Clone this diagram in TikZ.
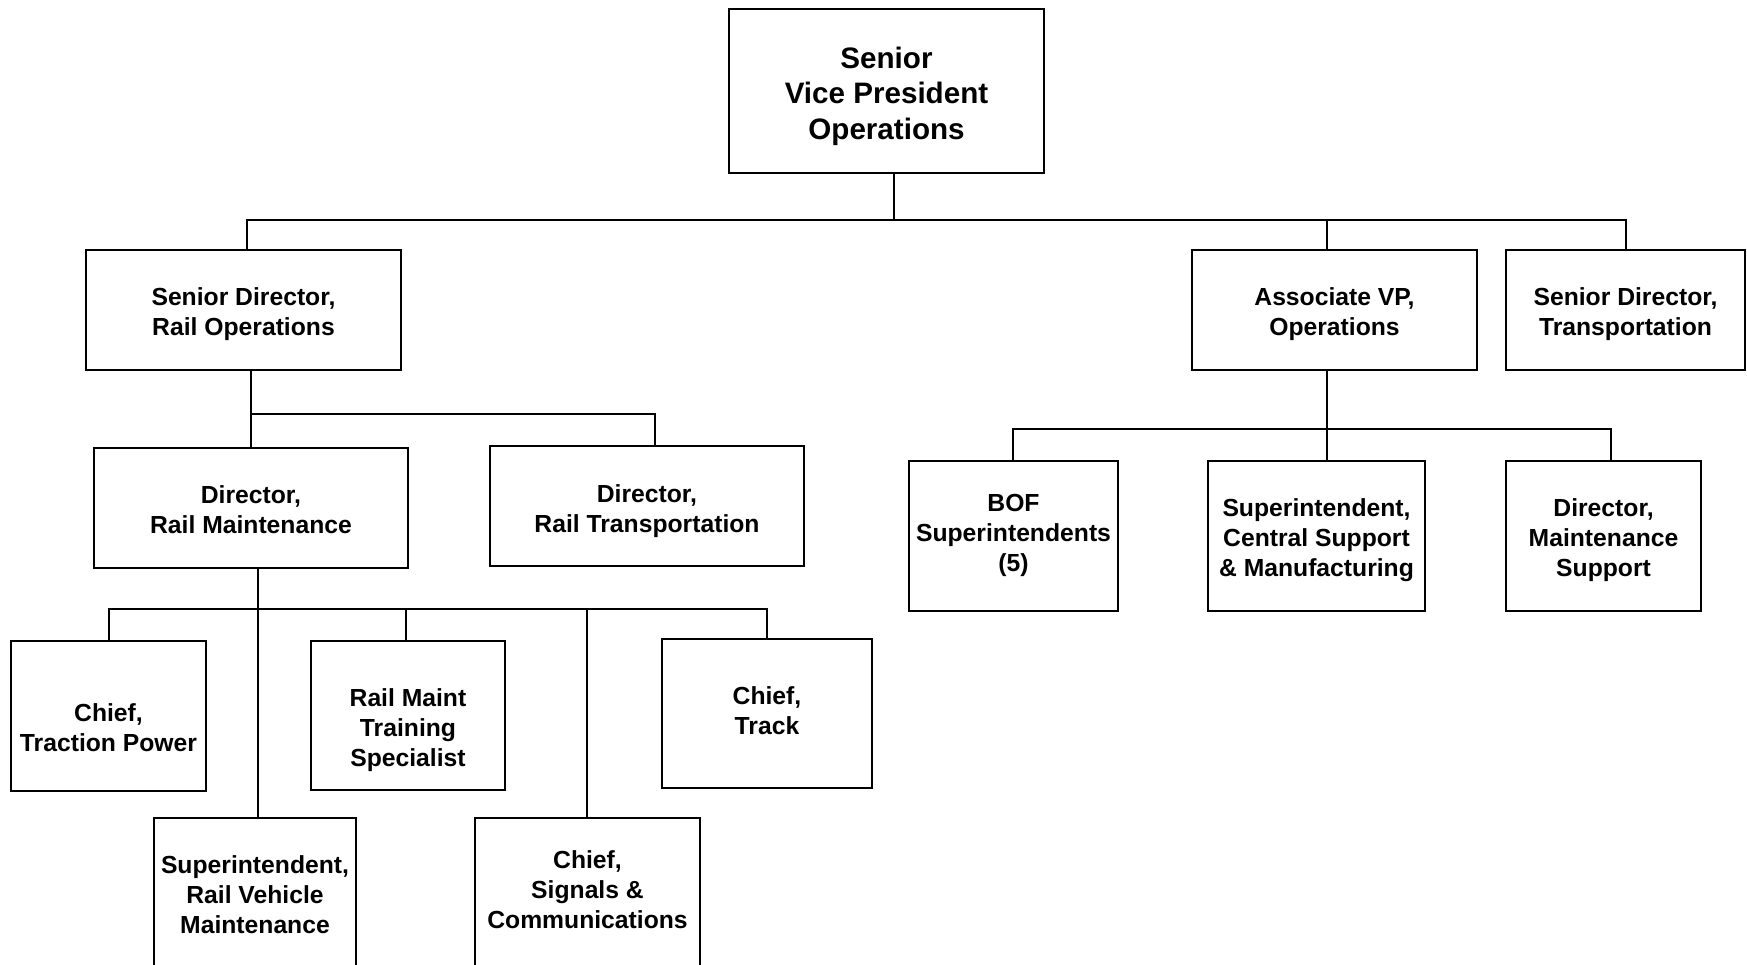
\documentclass[tikz,border=0pt]{standalone}
\usepackage{fontspec}
\setmainfont{Liberation Sans}
\begin{document}
\begin{tikzpicture}[x=1pt,y=-1pt,
  orgbox/.style={draw=black, line width=1.8pt, fill=white, inner sep=0pt},
  lbl/.style={align=center, inner sep=0pt, font=\fontsize{24.7}{30}\selectfont\bfseries},
  biglbl/.style={lbl, font=\fontsize{29.6}{35.5}\selectfont\bfseries},
  boxtext/.style 2 args={label={[lbl,yshift=#1]center:{#2}}},
  conn/.style={draw=black, line width=1.6pt}]
\useasboundingbox (0,0) rectangle (1747,965);
\clip (0,0) rectangle (1747,965);

% boxes
\node[orgbox, minimum width=315pt, minimum height=164pt,
  label={[biglbl,yshift=-5pt]center:{Senior\\Vice President\\Operations}}] (svp) at (886.5,91) {};
\node[orgbox, minimum width=315pt, minimum height=120pt,
  boxtext={-4.5pt}{Senior Director,\\Rail Operations}] (sdro) at (243.5,310) {};
\node[orgbox, minimum width=285pt, minimum height=120pt,
  boxtext={-4.5pt}{Associate VP,\\Operations}] (avp) at (1334.5,310) {};
\node[orgbox, minimum width=239pt, minimum height=120pt,
  boxtext={-4.5pt}{Senior Director,\\Transportation}] (sdt) at (1625.5,310) {};
\node[orgbox, minimum width=314pt, minimum height=120pt,
  boxtext={-2pt}{Director,\\Rail Maintenance}] (drm) at (251,508) {};
\node[orgbox, minimum width=314pt, minimum height=120pt,
  boxtext={-5pt}{Director,\\Rail Transportation}] (drt) at (647,506) {};
\node[orgbox, minimum width=209pt, minimum height=150pt,
  boxtext={1pt}{BOF\\Superintendents\\(5)}] (bof) at (1013.5,536) {};
\node[orgbox, minimum width=217pt, minimum height=150pt,
  boxtext={-4.5pt}{Superintendent,\\Central Support\\\& Manufacturing}] (csm) at (1316.5,536) {};
\node[orgbox, minimum width=195pt, minimum height=150pt,
  boxtext={-4.5pt}{Director,\\Maintenance\\Support}] (dms) at (1603.5,536) {};
\node[orgbox, minimum width=195pt, minimum height=150pt,
  boxtext={-12pt}{Chief,\\Traction Power}] (ctp) at (108.5,716) {};
\node[orgbox, line width=1.1pt, minimum width=194pt, minimum height=149pt,
  boxtext={-15pt}{Rail Maint\\Training\\Specialist}] (rmts) at (408,715.5) {};
\node[orgbox, minimum width=210pt, minimum height=149pt,
  boxtext={3pt}{Chief,\\Track}] (ct) at (767,713.5) {};
\node[orgbox, minimum width=202pt, minimum height=156pt,
  boxtext={1pt}{Superintendent,\\Rail Vehicle\\Maintenance}] (srvm) at (255,896) {};
\node[orgbox, minimum width=225pt, minimum height=156pt,
  boxtext={6pt}{Chief,\\Signals \&\\Communications}] (csc) at (587.5,896) {};

% level 1 bus
\coordinate (j0) at (894,220);
\coordinate (jL) at (247,220);
\coordinate (jA) at (1327,220);
\coordinate (jR) at (1626,220);
\draw[conn] (j0 |- svp.south) -- (j0);
\draw[conn] (jL |- sdro.north) -- (jL) -- (jR) -- (jR |- sdt.north);
\draw[conn] (jA) -- (jA |- avp.north);

% rail operations
\coordinate (k0) at (251,414);
\coordinate (k1) at (655,414);
\draw[conn] (k0 |- sdro.south) -- (k0 |- drm.north);
\draw[conn] (k0) -- (k1) -- (k1 |- drt.north);

% rail maintenance
\coordinate (m0) at (258,609);
\coordinate (mL) at (109,609);
\coordinate (mT) at (406,609);
\coordinate (mS) at (587,609);
\coordinate (mR) at (767,609);
\draw[conn] (m0 |- drm.south) -- (m0 |- srvm.north);
\draw[conn] (mL |- ctp.north) -- (mL) -- (mR) -- (mR |- ct.north);
\draw[conn] (mT) -- (mT |- rmts.north);
\draw[conn] (mS) -- (mS |- csc.north);

% associate VP
\coordinate (n0) at (1327,429);
\coordinate (nL) at (1013,429);
\coordinate (nR) at (1611,429);
\draw[conn] (n0 |- avp.south) -- (n0 |- csm.north);
\draw[conn] (nL |- bof.north) -- (nL) -- (nR) -- (nR |- dms.north);
\end{tikzpicture}
\end{document}
